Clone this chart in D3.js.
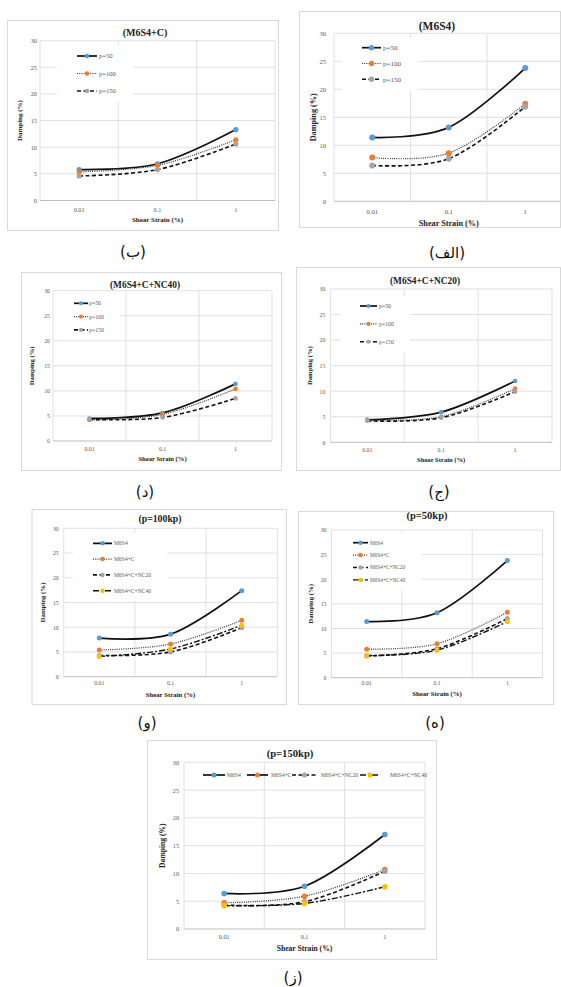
<!DOCTYPE html>
<html>
<head>
<meta charset="utf-8">
<script src="https://cdn.jsdelivr.net/npm/d3@7"></script>
<style>
  html, body { margin: 0; padding: 0; background: #fff; }
  svg { display: block; }
</style>
</head>
<body>
<div id="chart"></div>
<script>
// categories and ticks
const strains = ["0.01", "0.1", "1"];
const yTicks = [0, 5, 10, 15, 20, 25, 30];
const pressureNames = ["p=50", "p=100", "p=150"];
const mixNames = ["M6S4", "M6S4+C", "M6S4+C+NC20", "M6S4+C+NC40"];

// (الف) M6S4
const m6s4P50 = [11.4, 13.2, 23.8];
const m6s4P100 = [7.8, 8.6, 17.4];
const m6s4P150 = [6.4, 7.6, 16.9];
// (ب) M6S4+C
const cP50 = [5.8, 6.9, 13.3];
const cP100 = [5.4, 6.6, 11.4];
const cP150 = [4.6, 5.8, 10.6];
// (ج) M6S4+C+NC20
const nc20P50 = [4.4, 5.9, 12.0];
const nc20P100 = [4.4, 5.0, 10.5];
const nc20P150 = [4.2, 4.8, 9.9];
// (د) M6S4+C+NC40
const nc40P50 = [4.5, 5.6, 11.4];
const nc40P100 = [4.2, 5.3, 10.4];
const nc40P150 = [4.3, 4.7, 8.5];
// values as they appear in (و) and (ز) where they differ a little
const nc20P100b = [4.3, 5.0, 9.9];
const nc40P100b = [4.1, 5.6, 10.4];
const m6s4P150b = [6.4, 7.7, 17.0];
const cP150b = [4.7, 5.9, 10.7];
const nc20P150b = [4.3, 4.9, 10.4];
const nc40P150b = [4.2, 4.6, 7.6];

const W = 561, H = 987;
const markerColors = ["#5b9bd5", "#ed7d31", "#a5a5a5", "#ffc000"];
const lineStyles = [
  { dash: null, w: 1.7, c: "#111" },
  { dash: "1,1.2", w: 1.2, c: "#333" },
  { dash: "4,2.5", w: 1.6, c: "#111" },
  { dash: "6,2,2,2", w: 1.4, c: "#111" }
];
const serif = "'Liberation Serif', 'Times New Roman', serif";

// layout of each small chart
const panels = [
  { tag: "(ب)", tagAt: [133, 252], title: "(M6S4+C)", titleAt: [145, 32],
    box: [7, 20, 278, 230], plot: [40, 40.7, 275, 200.5],
    series: [cP50, cP100, cP150], names: pressureNames,
    fs: [10, 6.3, 7, 6.6], r: 2.6, tickPad: 3, xPad: 7, xTitleY: 220, yTitleX: 20,
    legend: { x0: 77, x1: 97, tx: 99, y: 56, dy: 17.5 } },
  { tag: "(الف)", tagAt: [447, 253], title: "(M6S4)", titleAt: [437, 26],
    box: [299, 11, 560, 227], plot: [334, 33.3, 563.5, 201.3],
    series: [m6s4P50, m6s4P100, m6s4P150], names: pressureNames,
    fs: [11.5, 6.6, 8.2, 7], r: 3, tickPad: 8, xPad: 8, xTitleY: 223, yTitleX: 313,
    legend: { x0: 362, x1: 381, tx: 383, y: 47.7, dy: 15.8 } },
  { tag: "(د)", tagAt: [145, 492], title: "(M6S4+C+NC40)", titleAt: [145, 285],
    box: [21, 272, 281, 470], plot: [53, 290.7, 272, 441],
    series: [nc40P50, nc40P100, nc40P150], names: pressureNames,
    fs: [9.4, 5.8, 6.6, 5.8], r: 2.3, tickPad: 3, xPad: 6, xTitleY: 458.5, yTitleX: 32,
    legend: { x0: 74, x1: 88, tx: 89, y: 303.3, dy: 13.3 } },
  { tag: "(ج)", tagAt: [439, 492], title: "(M6S4+C+NC20)", titleAt: [425, 281],
    box: [296, 267, 560, 470], plot: [330.4, 289, 552, 442.3],
    series: [nc20P50, nc20P100, nc20P150], names: pressureNames,
    fs: [9.4, 5.8, 6.6, 5.8], r: 2.3, tickPad: 5, xPad: 5.5, xTitleY: 460, yTitleX: 310,
    legend: { x0: 360, x1: 377, tx: 379, y: 306, dy: 17.9 } },
  { tag: "(و)", tagAt: [147, 723], title: "(p=100kp)", titleAt: [160, 519],
    box: [31.5, 509, 286, 704], plot: [63.7, 528.3, 277.3, 676.7],
    series: [m6s4P100, cP100, nc20P100b, nc40P100b], names: mixNames,
    fs: [9.8, 5.8, 6.8, 5.6], r: 2.5, tickPad: 5, xPad: 4, xTitleY: 695, yTitleX: 43,
    legend: { x0: 93, x1: 112, tx: 114, y: 543.3, dy: 15.8 } },
  { tag: "(ه)", tagAt: [435, 723], title: "(p=50kp)", titleAt: [427, 515],
    box: [298, 511, 553, 704], plot: [331.5, 530, 542.5, 677.7],
    series: [m6s4P50, cP50, nc20P50, nc40P50], names: mixNames,
    fs: [10.5, 5.8, 6.8, 5.3], r: 2.5, tickPad: 5, xPad: 3, xTitleY: 694, yTitleX: 311,
    legend: { x0: 353, x1: 368, tx: 370, y: 542.7, dy: 12.4 } },
  { tag: "(ز)", tagAt: [293, 978], title: "(p=150kp)", titleAt: [290, 753],
    box: [147, 740, 436, 959], plot: [184, 762.3, 425, 929],
    series: [m6s4P150b, cP150b, nc20P150b, nc40P150b], names: mixNames,
    fs: [10.6, 6.2, 7.6, 5.6], r: 2.8, tickPad: 5, xPad: 5.5, xTitleY: 948, yTitleX: 162,
    legendStyle: [0, 0, 2, 3],
    legend: { row: true, y: 775, x0: [203, 247, 292, 360], len: [22, 21, 25, 20], tx: [227, 271, 321, 390] } }
];

const svg = d3.select("#chart").append("svg")
  .attr("width", W).attr("height", H);

const curve = d3.curveCardinal.tension(0);

function styleLine(sel, k) {
  const s = lineStyles[k];
  sel.attr("fill", "none")
    .attr("stroke", s.c)
    .attr("stroke-width", s.w)
    .attr("stroke-dasharray", s.dash);
}

panels.forEach(function (p, pi) {
  const [bx0, by0, bx1, by1] = p.box;
  const [left, top, right, bottom] = p.plot;

  const g = svg.append("g");
  const clipId = "clip" + pi;
  g.append("clipPath").attr("id", clipId)
    .append("rect").attr("x", bx0).attr("y", by0).attr("width", bx1 - bx0).attr("height", by1 - by0);

  // frame
  g.append("rect")
    .attr("x", bx0 + 0.5).attr("y", by0 + 0.5)
    .attr("width", bx1 - bx0).attr("height", by1 - by0)
    .attr("fill", "#fff").attr("stroke", "#d9d9d9").attr("stroke-width", 1);

  const inner = g.append("g").attr("clip-path", "url(#" + clipId + ")");

  const x = d3.scaleBand().domain(strains).range([left, right]).paddingInner(0).paddingOuter(0);
  const y = d3.scaleLinear().domain([0, 30]).range([bottom, top]);
  const cx = function (s) { return x(s) + x.bandwidth() / 2; };

  // horizontal gridlines
  inner.append("g").selectAll("line")
    .data(yTicks.filter(function (t) { return t > 0; }))
    .join("line")
    .attr("x1", left).attr("x2", right)
    .attr("y1", function (t) { return y(t); }).attr("y2", function (t) { return y(t); })
    .attr("stroke", "#d9d9d9").attr("stroke-width", 0.8);

  // vertical gridlines at category boundaries
  const edges = strains.map(function (s) { return x(s); }).concat([right]);
  inner.append("g").selectAll("line")
    .data(edges)
    .join("line")
    .attr("x1", function (d) { return d; }).attr("x2", function (d) { return d; })
    .attr("y1", top).attr("y2", bottom)
    .attr("stroke", "#d9d9d9").attr("stroke-width", 0.8);

  // x axis line
  inner.append("line")
    .attr("x1", left).attr("x2", right).attr("y1", bottom).attr("y2", bottom)
    .attr("stroke", "#bfbfbf").attr("stroke-width", 1);

  // axes (labels only)
  const yAxis = inner.append("g")
    .attr("transform", "translate(" + left + ",0)")
    .call(d3.axisLeft(y).tickValues(yTicks).tickSize(0).tickPadding(p.tickPad));
  const xAxis = inner.append("g")
    .attr("transform", "translate(0," + bottom + ")")
    .call(d3.axisBottom(x).tickSize(0).tickPadding(p.xPad));
  [yAxis, xAxis].forEach(function (a) {
    a.select(".domain").remove();
    a.selectAll("text")
      .attr("fill", "#595959")
      .style("font-family", serif)
      .style("font-size", p.fs[1] + "px");
  });

  // title
  g.append("text")
    .attr("x", p.titleAt[0]).attr("y", p.titleAt[1])
    .attr("dy", "0.35em").attr("text-anchor", "middle")
    .style("font-family", serif).style("font-weight", "bold")
    .style("font-size", p.fs[0] + "px").attr("fill", "#222")
    .text(p.title);

  // axis titles
  g.append("text")
    .attr("x", (left + right) / 2 > bx1 ? (left + bx1) / 2 : (left + right) / 2)
    .attr("y", p.xTitleY).attr("dy", "0.35em").attr("text-anchor", "middle")
    .style("font-family", serif).style("font-weight", "bold")
    .style("font-size", p.fs[2] + "px").attr("fill", "#222")
    .text("Shear Strain (%)");
  g.append("text")
    .attr("transform", "translate(" + p.yTitleX + "," + (top + bottom) / 2 + ") rotate(-90)")
    .attr("dy", "0.35em").attr("text-anchor", "middle")
    .style("font-family", serif).style("font-weight", "bold")
    .style("font-size", p.fs[2] + "px").attr("fill", "#222")
    .text("Damping (%)");

  // legend
  const lg = inner.append("g");
  const legendStyle = p.legendStyle || [0, 1, 2, 3];
  const L = p.legend;
  const items = lg.selectAll("g").data(p.names).join("g");
  if (L.row) {
    items.each(function (name, i) {
      const it = d3.select(this);
      it.append("line")
        .attr("x1", L.x0[i]).attr("x2", L.x0[i] + L.len[i])
        .attr("y1", L.y).attr("y2", L.y)
        .call(styleLine, legendStyle[i]);
      it.append("circle")
        .attr("cx", L.x0[i] + L.len[i] / 2).attr("cy", L.y).attr("r", p.r * 0.9)
        .attr("fill", markerColors[i]);
      it.append("text")
        .attr("x", L.tx[i]).attr("y", L.y).attr("dy", "0.35em")
        .style("font-family", serif).style("font-size", p.fs[3] + "px")
        .attr("fill", "#595959").text(name);
    });
  } else {
    items.each(function (name, i) {
      const it = d3.select(this);
      const ly = L.y + i * L.dy;
      it.append("line")
        .attr("x1", L.x0).attr("x2", L.x1).attr("y1", ly).attr("y2", ly)
        .call(styleLine, legendStyle[i]);
      it.append("circle")
        .attr("cx", (L.x0 + L.x1) / 2).attr("cy", ly).attr("r", p.r * 0.9)
        .attr("fill", markerColors[i]);
      it.append("text")
        .attr("x", L.tx).attr("y", ly).attr("dy", "0.35em")
        .style("font-family", serif).style("font-size", p.fs[3] + "px")
        .attr("fill", "#595959").text(name);
    });
    // white box behind the legend hides the gridlines, like in Excel
    const bb = lg.node().getBBox();
    lg.insert("rect", ":first-child")
      .attr("x", bb.x - 20).attr("y", bb.y - 7)
      .attr("width", bb.width + 36).attr("height", bb.height + 14)
      .attr("fill", "#fff");
  }

  // series lines and markers
  const line = d3.line()
    .x(function (d, i) { return cx(strains[i]); })
    .y(function (d) { return y(d); })
    .curve(curve);

  p.series.forEach(function (vals, i) {
    inner.append("path").datum(vals).attr("d", line).call(styleLine, i);
    inner.append("g").selectAll("circle")
      .data(vals)
      .join("circle")
      .attr("cx", function (d, j) { return cx(strains[j]); })
      .attr("cy", function (d) { return y(d); })
      .attr("r", p.r)
      .attr("fill", markerColors[i]);
  });

  // Persian panel letter
  svg.append("text")
    .attr("x", p.tagAt[0]).attr("y", p.tagAt[1])
    .attr("dy", "0.35em").attr("text-anchor", "middle")
    .style("font-family", "'DejaVu Sans', sans-serif").style("font-size", "15px")
    .attr("fill", "#111")
    .text(p.tag);
});
</script>
</body>
</html>
